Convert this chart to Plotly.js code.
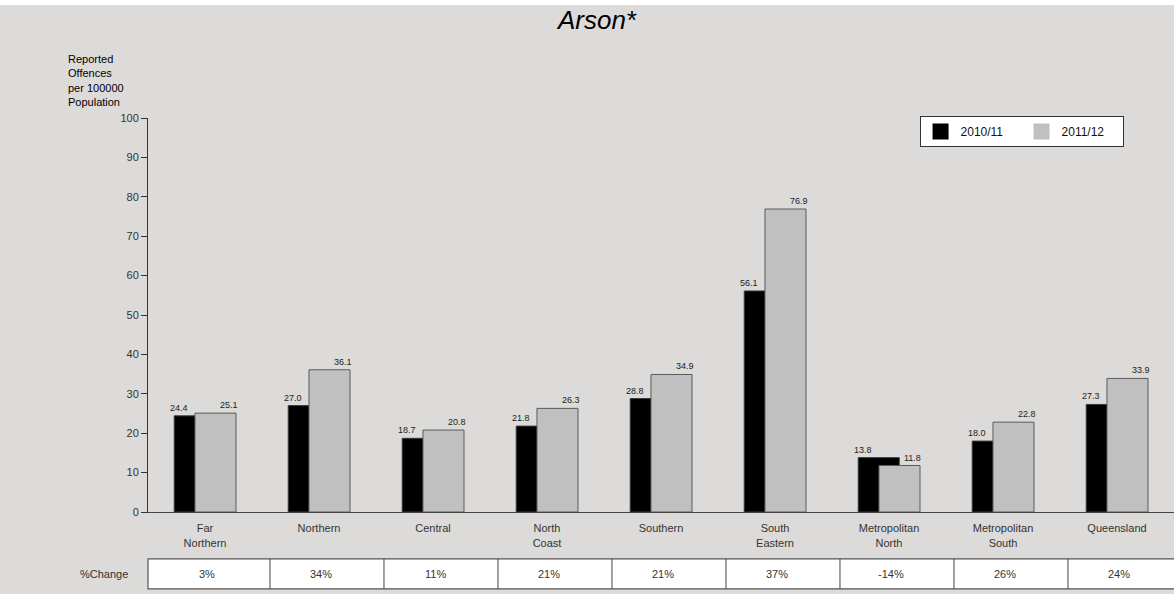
<!DOCTYPE html>
<html>
<head>
<meta charset="utf-8">
<script src="https://cdn.plot.ly/plotly-3.0.1.min.js"></script>
<style>html,body{margin:0;padding:0;background:#dcdbd9;}#chart{width:1174px;height:594px;}</style>
</head>
<body>
<div id="chart"></div>
<script>
const categories = ['Far<br>Northern','Northern','Central','North<br>Coast','Southern','South<br>Eastern','Metropolitan<br>North','Metropolitan<br>South','Queensland'];
const series2010 = [24.4, 27.0, 18.7, 21.8, 28.8, 56.1, 13.8, 18.0, 27.3];
const series2011 = [25.1, 36.1, 20.8, 26.3, 34.9, 76.9, 11.8, 22.8, 33.9];
const pctChange = ['3%','34%','11%','21%','21%','37%','-14%','26%','24%'];
const yTicks = [0,10,20,30,40,50,60,70,80,90,100];
const seriesNames = ['2010/11','2011/12'];

const idx = categories.map((c,i)=>i);
const FONT = 'Arial, "Liberation Sans", sans-serif';

const traces = [
  {type:'bar', name:seriesNames[0], x: idx, y: series2010, width:0.36, offset:-0.27, showlegend:false,
   marker:{color:'#000000', line:{color:'#3a3a3a', width:1}}, hoverinfo:'y'},
  {type:'bar', name:seriesNames[1], x: idx, y: series2011, width:0.36, offset:-0.088, showlegend:false,
   marker:{color:'#c0c0c0', line:{color:'#5a5a5a', width:1}}, hoverinfo:'y'},
  {type:'scatter', mode:'markers', name:seriesNames[0], x:[null], y:[null], showlegend:true,
   marker:{symbol:'square', size:18, color:'#000000', line:{width:0}}},
  {type:'scatter', mode:'markers', name:seriesNames[1], x:[null], y:[null], showlegend:true,
   marker:{symbol:'square', size:18, color:'#c0c0c0', line:{width:0}}}
];

const annotations = [];
idx.forEach(i=>{
  annotations.push({x:i-0.23, y:series2010[i], xref:'x', yref:'y', text:series2010[i].toFixed(1),
    showarrow:false, yanchor:'bottom', yshift:1, font:{family:FONT, size:9, color:'#222'}});
  annotations.push({x:i+0.21, y:series2011[i], xref:'x', yref:'y', text:series2011[i].toFixed(1),
    showarrow:false, yanchor:'bottom', yshift:1, font:{family:FONT, size:9, color:'#222'}});
  annotations.push({x:i+0.02, y:-0.157, xref:'x', yref:'paper', text:pctChange[i],
    showarrow:false, yanchor:'middle', font:{family:FONT, size:11, color:'#333333'}});
});
annotations.push({x:-0.0795, y:1.17, xref:'paper', yref:'paper', xanchor:'left', yanchor:'top', align:'left',
  text:'Reported<br>Offences<br>per 100000<br>Population', showarrow:false,
  font:{family:FONT, size:11, color:'#000'}});
annotations.push({x:-0.0175, y:-0.157, xref:'paper', yref:'paper', xanchor:'right', yanchor:'middle',
  text:'%Change', showarrow:false, font:{family:FONT, size:11, color:'#333'}});

const shapes = [
  {type:'rect', xref:'paper', yref:'paper', x0:0, x1:1.02, y0:-0.119, y1:-0.195,
   fillcolor:'#ffffff', line:{color:'#555', width:1.2}, layer:'above'}
];
idx.slice(0,8).forEach(i=>{
  const px = (i + 0.57 + 0.5)/9;
  shapes.push({type:'line', xref:'paper', yref:'paper', x0:px, x1:px, y0:-0.119, y1:-0.195,
    line:{color:'#444', width:1}});
});
// white strip at top of image
shapes.push({type:'rect', xref:'paper', yref:'paper', x0:-0.2, x1:1.1, y0:1.3, y1:1.2868,
  fillcolor:'#ffffff', line:{width:0}, layer:'above'});

const layout = {
  width:1174, height:594,
  margin:{l:148, r:0, t:118, b:82, pad:0},
  paper_bgcolor:'#dcdbd9', plot_bgcolor:'#dcdbd9',
  barmode:'overlay',
  showlegend:true,
  title:{text:'<i>Arson*</i>', x:0.5085, xref:'container', xanchor:'center', y:0.967, yref:'container', yanchor:'middle',
    font:{family:FONT, size:26, color:'#000'}},
  legend:{orientation:'h', x:0.752, y:1.005, xanchor:'left', yanchor:'top', bgcolor:'#ffffff',
    bordercolor:'#333', borderwidth:1, font:{family:FONT, size:12, color:'#111'},
    entrywidth:56, entrywidthmode:'pixels', traceorder:'normal', itemsizing:'trace'},
  xaxis:{range:[-0.5,8.5], tickvals:idx, ticktext:categories, showgrid:false, zeroline:false,
    showline:true, linecolor:'#444', linewidth:1, ticks:'', ticklabelstandoff:6,
    tickfont:{family:FONT, size:11, color:'#333'}, fixedrange:true},
  yaxis:{range:[0,100], tickvals:yTicks, showgrid:false, zeroline:false, showline:true,
    linecolor:'#333', linewidth:1, ticks:'outside', ticklen:6, tickcolor:'#333',
    tickfont:{family:FONT, size:11, color:'#333'}, fixedrange:true},
  annotations:annotations,
  shapes:shapes
};

Plotly.newPlot('chart', traces, layout, {displayModeBar:false, staticPlot:true});
</script>
</body>
</html>
